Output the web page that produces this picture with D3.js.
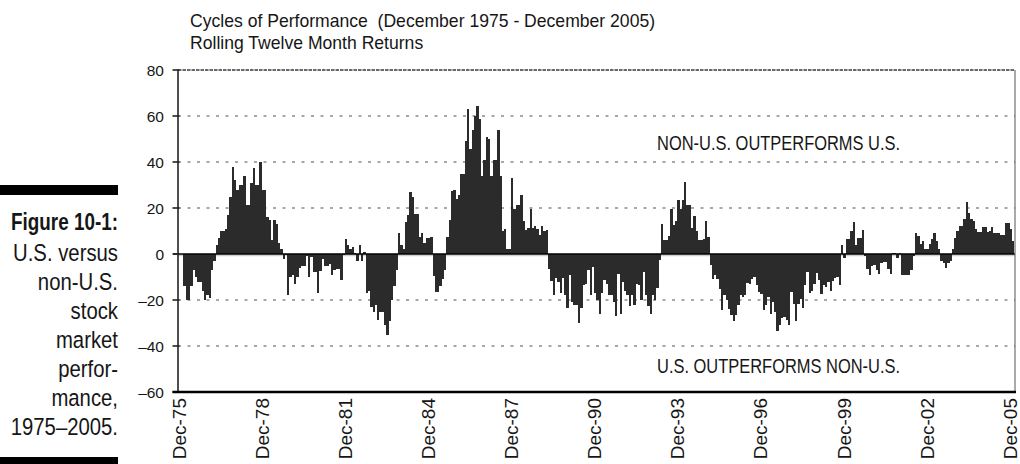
<!DOCTYPE html>
<html lang="en">
<head>
<meta charset="UTF-8">
<title>Cycles of Performance</title>
<script src="https://d3js.org/d3.v7.min.js"></script>
<style>
  body { margin: 0; background: #fff; }
  svg { display: block; }
  .reg { font-family: "Liberation Sans", Arial, Helvetica, sans-serif; fill: #161616; white-space: pre; }
</style>
</head>
<body>
<svg id="chart" width="1020" height="464"></svg>
<script>
// ---- data ----
var titleLines = ["Cycles of Performance  (December 1975 - December 2005)", "Rolling Twelve Month Returns"];
var captionTitle = "Figure 10-1:";
var captionLines = ["U.S. versus", "non-U.S.", "stock", "market", "perfor-", "mance,", "1975\u20132005."];
var notes = ["NON-U.S. OUTPERFORMS U.S.", "U.S. OUTPERFORMS NON-U.S."];
var xTickLabels = ["Dec-75", "Dec-78", "Dec-81", "Dec-84", "Dec-87", "Dec-90",
                   "Dec-93", "Dec-96", "Dec-99", "Dec-02", "Dec-05"];
var yTicks = [80, 60, 40, 20, 0, -20, -40, -60];

// non-U.S. minus U.S. rolling 12 month return, one value per month
var returns = [
  -14, -20, -20, -14, -7, -10, -12, -12, -16, -20, -18, -19, -7, -3,
  4, 7, 10, 10, 11, 17, 25, 38, 32, 28, 30, 30, 34, 21.5, 21.5, 31, 37.5, 30, 30, 40, 28, 28, 16, 15, 6, 15, 13, 5, 2,
  -2, -0.5, -18, -10, -9, -13, -10, -6, -5, -5, -1, -10, -1.3, -8, -8, -17, -7.5, -2, -5, -5, -4.5, -9, -7, -6.7, -6.7, -11.5, -0.5,
  6.5, 4, 2, 3, 0.5, -3, 4, -3, 1,
  -17, -16, -23, -25, -22, -28.5, -25, -25, -31, -35, -29, -20, -14, -7,
  9, 4, 2, 14, 17, 27, 24.6, 17.4, 17.4, 7.5, 9, 5, 7, 7, 7.5,
  -9.4, -16.4, -16.4, -14, -11, -7,
  7.5, 15, 27.5, 28, 24, 25.6, 35, 35, 49, 63, 45.6, 54, 60, 64.5, 58.7, 34, 41, 51, 50, 34, 41, 41, 54, 34, 10, 11, 2, 2, 33,
  19.7, 21.4, 21.4, 25.8, 14.2, 10.3, 11.4, 19.7, 11.4, 12.2, 10.7, 8.4, 12.2, 9.9, 10.3,
  -6.4, -11.9, -17.7, -10.3, -12, -17, -10.3, -17.7, -23.5, -9.3, -21, -22, -22, -30, -23.5, -13.6, -12.9,
  -7.1, -17.7, -5.7, -17, -20, -26, -17, -11.4, -13, -17.7, -17.7, -21, -27, -8.6, -26, -12, -16, -17.7,
  -22.6, -18, -22, -13, -13.6, -20, -8, -17.7, -22.6, -26, -18, -20, -14.8, -2.8,
  13, 5.9, 5.9, 7.8, 19.7, 12.5, 14.2, 23.3, 19.7,
  23.3, 31.3, 21.4, 21.4, 11.3, 16.5, 9.9, 5.9, 5.9, 6.7, 14.2, 7.4,
  -4.6, -11, -9, -11, -15.4, -24.5, -18, -20, -23.8, -26.4, -29.3, -26.4, -22, -17.7, -18.7, -18, -12.5, -12.9, -10.7,
  -10, -13.3, -16.5, -17.2, -24.5, -22.3, -18.7, -26, -21, -25, -33.6, -30.7, -28, -27.4, -28.8, -30.7, -16.5, -21.6,
  -29.3, -21.6, -19.4, -23.5, -13.6, -7.8, -16.8, -16.2, -12.9, -8.1, -11.4, -17.2, -13.6, -14.3, -12.2, -16.2, -11.9, -10.4, -10, -13.6,
  4, -1.7, 6.7,
  6.4, 10, 13.9, 3.9, 7.1, 7.1, 10.3, -1, -6.4, -9.3, -5.3, -4.7, -7.1, -8.6, -3.9, -3.6, -3.3, -6.7, -8.6,
  0.4, 0.4, -1.9, 0.4, -9.3, -9.3, -9.3, -9.3, -7.1, -0.7,
  9, 7.9, 4.3, 5.7, 2.1, 2.1, 4.3, 6.4, 9, 5.7, 2.1, -2.9, -3.9, -6.1, -3.9, -2.9,
  2.1, 7.1, 10, 12.1, 12.1, 15.3, 22.6, 17.9, 15.3, 14.3, 11, 9.6, 9.6, 11.9, 11.9, 9.6, 10, 11.9, 9.3, 9, 9, 8.1, 8.1, 13.6, 13.6, 11, 5.7
];

// ---- layout ----
var svg = d3.select('#chart');
var plotLeft = 178, plotRight = 1015, plotTop = 70, plotBottom = 392;
var squeeze = 0.82;   // horizontal scale that fakes a condensed face

var y = d3.scaleLinear().domain([-60, 80]).range([plotBottom, plotTop]);
var x = d3.scaleLinear().domain([0, returns.length]).range([183.3, 1014.2]);

// scale a text's font size so it spans a given width (sx = horizontal scale of its group)
function fitWidth(sel, target, sx) {
  var w = sel.node().getComputedTextLength() * (sx || 1);
  var fs = parseFloat(sel.attr('font-size')) * target / w;
  sel.attr('font-size', fs.toFixed(2));
  return fs;
}

// condensed text: regular face squeezed horizontally
function narrowText(px, py, str, size, anchor) {
  return svg.append('g')
    .attr('transform', 'translate(' + px + ',' + py + ') scale(' + squeeze + ',1)')
    .append('text')
    .attr('class', 'reg')
    .attr('text-anchor', anchor || 'start')
    .attr('font-size', size)
    .text(str);
}

// gridlines
svg.append('g').selectAll('line')
  .data(yTicks.filter(function(d) { return d !== 0 && d !== -60 && d !== 80; }))
  .join('line')
  .attr('x1', plotLeft).attr('x2', plotRight)
  .attr('y1', function(d) { return y(d); }).attr('y2', function(d) { return y(d); })
  .attr('stroke', '#8a8a8a').attr('stroke-width', 1.4)
  .attr('stroke-dasharray', '3,6.5');

// top line at 80 (dense dashes)
svg.append('line')
  .attr('x1', plotLeft).attr('x2', plotRight)
  .attr('y1', y(80)).attr('y2', y(80))
  .attr('stroke', '#3a3a3a').attr('stroke-width', 1.6)
  .attr('stroke-dasharray', '3.5,1');

// light shadow under the zero line
svg.append('line')
  .attr('x1', plotLeft).attr('x2', plotRight)
  .attr('y1', y(0) + 1.6).attr('y2', y(0) + 1.6)
  .attr('stroke', '#cfcfcf').attr('stroke-width', 1.5);

// bars
svg.append('g')
  .attr('shape-rendering', 'crispEdges')
  .selectAll('rect')
  .data(returns)
  .join('rect')
  .attr('x', function(d, i) { return x(i); })
  .attr('width', function(d, i) { return x(i + 1) - x(i); })
  .attr('y', function(d) { return y(Math.max(0, d)); })
  .attr('height', function(d) { return Math.abs(y(d) - y(0)); })
  .attr('fill', '#2b2b2b');

// zero line
svg.append('line')
  .attr('x1', plotLeft - 5).attr('x2', plotRight)
  .attr('y1', y(0)).attr('y2', y(0))
  .attr('stroke', '#000').attr('stroke-width', 1.6);

// left axis, right border, bottom axis
svg.append('line')
  .attr('x1', plotLeft).attr('x2', plotLeft)
  .attr('y1', plotTop).attr('y2', plotBottom)
  .attr('stroke', '#3c3c3c').attr('stroke-width', 1.8);
svg.append('line')
  .attr('x1', plotRight).attr('x2', plotRight)
  .attr('y1', plotTop).attr('y2', plotBottom)
  .attr('stroke', '#555').attr('stroke-width', 1);
svg.append('g').selectAll('line')
  .data(yTicks)
  .join('line')
  .attr('x1', plotLeft - 5.5).attr('x2', plotLeft + 1.5)
  .attr('y1', function(d) { return y(d); }).attr('y2', function(d) { return y(d); })
  .attr('stroke', '#222').attr('stroke-width', 1.6);
svg.append('line')
  .attr('x1', plotLeft - 5.5).attr('x2', plotRight + 1)
  .attr('y1', plotBottom).attr('y2', plotBottom)
  .attr('stroke', '#000').attr('stroke-width', 2.6);

// y tick labels
svg.append('g').selectAll('text')
  .data(yTicks)
  .join('text')
  .attr('class', 'reg')
  .attr('x', 164)
  .attr('y', function(d) { return y(d); })
  .attr('dy', '0.36em')
  .attr('text-anchor', 'end')
  .attr('font-size', 15.5)
  .text(function(d) { return d < 0 ? '\u2013' + Math.abs(d) : d; });

// x tick labels (rotated)
svg.append('g').selectAll('text')
  .data(xTickLabels)
  .join('text')
  .attr('class', 'reg')
  .attr('font-size', 19)
  .attr('text-anchor', 'end')
  .attr('transform', function(d, i) { return 'translate(' + (x(i * 36) + 2.5) + ',398) rotate(-90)'; })
  .text(function(d) { return d; });

// title
var t1 = svg.append('text').attr('class', 'reg').attr('x', 190).attr('y', 27)
  .attr('font-size', 18).text(titleLines[0]);
var titleSize = fitWidth(t1, 465);
svg.append('text').attr('class', 'reg').attr('x', 190).attr('y', 49)
  .attr('font-size', titleSize.toFixed(2)).text(titleLines[1]);

// region notes
var n1 = narrowText(657, 150, notes[0], 19);
var noteSize = fitWidth(n1, 243, squeeze);
narrowText(657, 373, notes[1], noteSize.toFixed(2));

// figure caption on the left
svg.append('rect').attr('x', 0).attr('y', 185).attr('width', 118).attr('height', 10).attr('fill', '#000');
svg.append('rect').attr('x', 0).attr('y', 457).attr('width', 118).attr('height', 8).attr('fill', '#000');
var ct = narrowText(118, 230, captionTitle, 22, 'end').attr('font-weight', 'bold');
fitWidth(ct, 107, squeeze);
var c0 = narrowText(118, 260.5, captionLines[0], 22, 'end');
var capSize = fitWidth(c0, 105, squeeze);
captionLines.slice(1).forEach(function(line, i) {
  narrowText(118, 260.5 + (i + 1) * 29.1, line, capSize.toFixed(2), 'end');
});
</script>
</body>
</html>
